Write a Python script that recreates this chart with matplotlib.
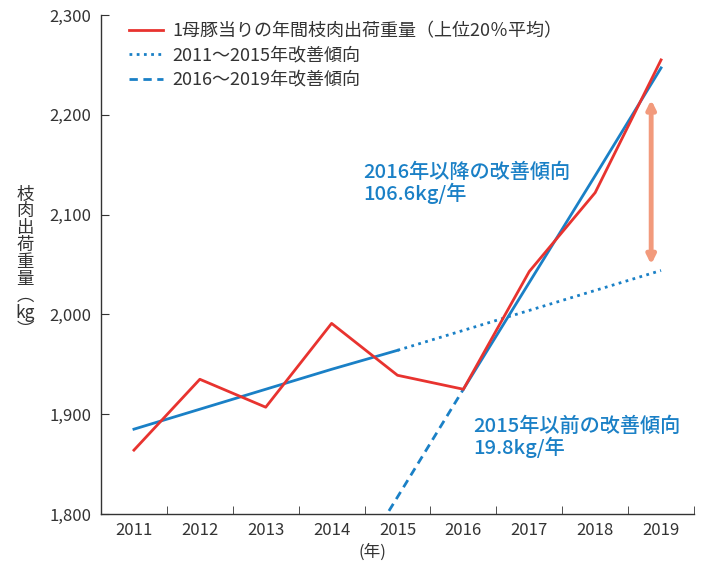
import matplotlib
matplotlib.use("Agg")
import matplotlib.pyplot as plt
from matplotlib.ticker import FixedLocator, FuncFormatter

plt.rcParams['font.family'] = ['Noto Sans CJK JP', 'DejaVu Sans']

# ====== DATA ======
years = [2011, 2012, 2013, 2014, 2015, 2016, 2017, 2018, 2019]
carcass = [1864, 1935, 1907, 1991, 1939, 1925, 2043, 2122, 2255]

# 2011-2015 trend (solid to 2015, dotted beyond)
trend1_years = years
trend1 = [1885, 1905, 1925, 1945, 1964, 1984, 2004, 2024, 2044]

# 2016-2019 trend (solid from 2016, dashed backwards)
trend2_years = [2014, 2015, 2016, 2017, 2018, 2019]
trend2 = [1710, 1817, 1925, 2032, 2139, 2247]

arrow_year = 2018.85
arrow_top = 2215
arrow_bottom = 2050

red = "#E8332F"
blue = "#1A80C6"
gray = "#333333"

fig = plt.figure(figsize=(7.07, 5.69), dpi=100)
ax = fig.add_axes([101 / 707, 1 - 514 / 569, 593 / 707, 499 / 569])

ax.plot(years, carcass, color=red, lw=2, label="1母豚当りの年間枝肉出荷重量（上位20％平均）", zorder=4)
ax.plot(trend1_years[:5], trend1[:5], color=blue, lw=2, zorder=3)
ax.plot(trend1_years[4:], trend1[4:], color=blue, lw=2, ls=(0, (1, 1.6)),
        label="2011～2015年改善傾向", zorder=3)
ax.plot(trend2_years[2:], trend2[2:], color=blue, lw=2, zorder=3)
ax.plot(trend2_years[:3], trend2[:3], color=blue, lw=2, ls=(0, (3, 2)),
        label="2016～2019年改善傾向", zorder=3)

ax.annotate("", xy=(arrow_year, arrow_bottom), xytext=(arrow_year, arrow_top),
            arrowprops=dict(arrowstyle="<|-|>,head_length=0.5,head_width=0.25",
                            color="#F29A7C", lw=3.5, shrinkA=0, shrinkB=0))

ax.text(2014.48, 2131, "2016年以降の改善傾向\n106.6kg/年", color=blue, fontsize=14.5,
        fontweight="medium", linespacing=1.05, va="center")
ax.text(2016.15, 1877, "2015年以前の改善傾向\n19.8kg/年", color=blue, fontsize=14.5,
        fontweight="medium", linespacing=1.05, va="center")

ax.set_xlim(2010.5, 2019.5)
ax.set_ylim(1800, 2300)
ax.set_yticks([1800, 1900, 2000, 2100, 2200, 2300])
ax.yaxis.set_major_formatter(FuncFormatter(lambda v, p: f"{int(v):,}"))
ax.set_xticks(years)
ax.set_xticklabels([str(y) for y in years])
ax.xaxis.set_minor_locator(FixedLocator([y + 0.5 for y in years]))
ax.tick_params(axis="x", which="major", length=0, pad=6, labelsize=12, labelcolor=gray)
ax.tick_params(axis="x", which="minor", direction="in", length=6, color=gray)
ax.tick_params(axis="y", direction="in", length=6, color=gray, pad=7, labelsize=12, labelcolor=gray)

for side in ["top", "right"]:
    ax.spines[side].set_visible(False)
for side in ["left", "bottom"]:
    ax.spines[side].set_color(gray)
    ax.spines[side].set_linewidth(1)

fig.text(372 / 707, 1 - 552 / 569, "(年)", ha="center", va="center", fontsize=12, color=gray)
fig.text(25 / 707, 1 - 262 / 569, "枝\n肉\n出\n荷\n重\n量\n︵\nkg\n︶", ha="center", va="center",
         fontsize=12.5, color=gray, linespacing=0.92)

leg = ax.legend(loc="upper left", bbox_to_anchor=(0.035, 1.0), frameon=False, fontsize=13,
                handlelength=1.9, labelspacing=0.35, handletextpad=0.5, borderaxespad=0)
for t in leg.get_texts():
    t.set_color(gray)

fig.savefig("out.png", dpi=100)
